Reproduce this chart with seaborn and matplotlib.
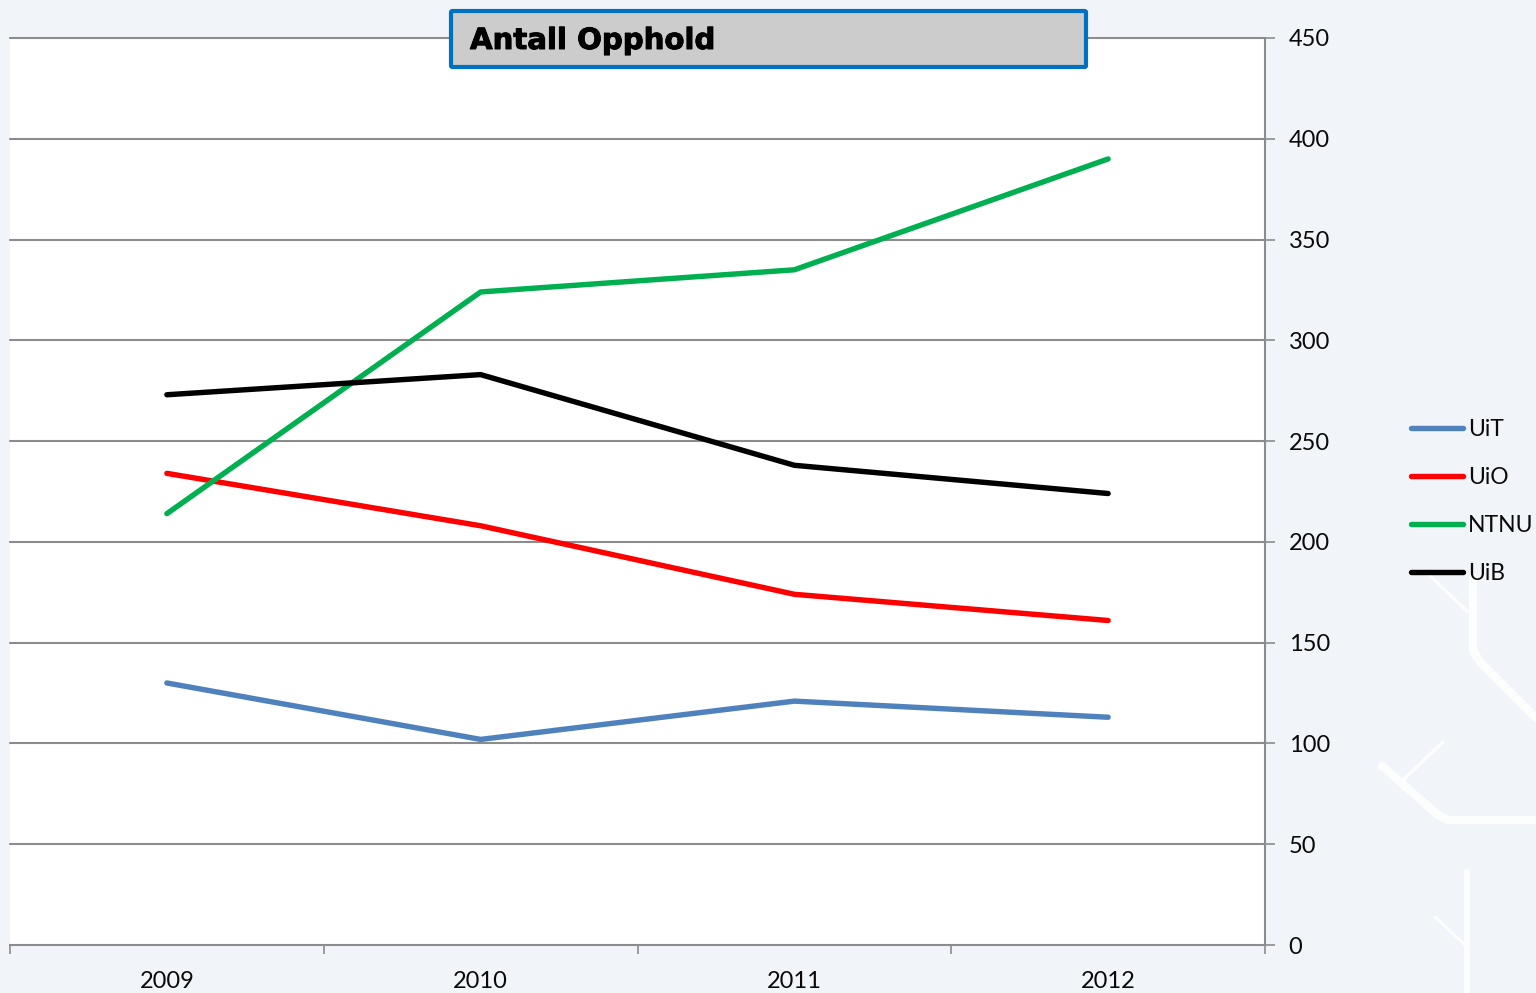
import matplotlib
matplotlib.use("Agg")
import matplotlib.pyplot as plt
import matplotlib.patheffects as pe
import seaborn as sns
import pandas as pd
from matplotlib.patches import FancyBboxPatch
from matplotlib.lines import Line2D

years = ["2009", "2010", "2011", "2012"]
uit = [130, 102, 121, 113]
uio = [234, 208, 174, 161]
ntnu = [214, 324, 335, 390]
uib = [273, 283, 238, 224]
y_ticks = [0, 50, 100, 150, 200, 250, 300, 350, 400, 450]
title = "Antall Opphold"

W, H = 1536, 993
BG = "#f1f4f8"
GRID = "#8c8c8c"
LW = 3.9
TXT = "#0a0a0a"
sns.set_theme(style="white")
plt.rcParams["font.family"] = ["Lato", "DejaVu Sans"]

fig = plt.figure(figsize=(W / 100, H / 100), dpi=100, facecolor=BG)


def fx(px):
    return px / W


def fy(px):
    return 1 - px / H


# faint white background decoration
deco = [
    ([1428, 1468], [574, 612], 2.5),
    ([1473, 1473, 1480, 1536], [578, 650, 662, 718], 6),
    ([1382, 1438, 1448, 1536], [766, 815, 820, 820], 6),
    ([1403, 1443], [780, 742], 2.5),
    ([1467, 1467], [872, 993], 4.5),
    ([1435, 1465], [917, 945], 2),
]
for xs, ys, lw in deco:
    fig.add_artist(Line2D([fx(v) for v in xs], [fy(v) for v in ys], color="white", lw=lw,
                          solid_capstyle="round", transform=fig.transFigure, zorder=0, alpha=0.85))

L, R, T, B = 10, 1265, 38, 945
ax = fig.add_axes([L / W, 1 - B / H, (R - L) / W, (B - T) / H], facecolor="white")

df = pd.DataFrame({"pos": [0.5, 1.5, 2.5, 3.5] * 4,
                   "value": uit + uio + ntnu + uib,
                   "series": ["UiT"] * 4 + ["UiO"] * 4 + ["NTNU"] * 4 + ["UiB"] * 4})
colors = {"UiT": "#4f81bd", "UiO": "#ff0000", "NTNU": "#00b050", "UiB": "#000000"}
ax.set_axisbelow(True)
sns.lineplot(data=df, x="pos", y="value", hue="series", palette=colors, ax=ax,
             linewidth=LW, legend=False, solid_capstyle="round", sort=False)

ax.set_xlim(0, 4)
ax.set_ylim(0, 450)
ax.set_xlabel("")
ax.set_ylabel("")
ax.yaxis.tick_right()
ax.set_yticks(y_ticks)
ax.set_xticks([0, 1, 2, 3, 4])
ax.set_xticklabels([])
ax.tick_params(axis="y", length=7, width=1.2, color=GRID, labelsize=17,
               pad=10, labelcolor=TXT, right=True)
ax.tick_params(axis="x", length=6.5, width=1.2, color=GRID, direction="out", bottom=True)
for v in y_ticks[1:]:
    ax.axhline(v, color=GRID, lw=1.5, zorder=0.5, clip_on=False)
for s in ["top", "left"]:
    ax.spines[s].set_visible(False)
for s in ["right", "bottom"]:
    ax.spines[s].set_visible(True)
    ax.spines[s].set_color(GRID)
    ax.spines[s].set_linewidth(1.5)
for p, lab in zip([0.5, 1.5, 2.5, 3.5], years):
    ax.annotate(lab, (p, 0), xytext=(0, -26), textcoords="offset points",
                ha="center", va="center", fontsize=17, color=TXT)

# title box
box_w, box_h = 635, 56
fig.add_artist(FancyBboxPatch((451, H - 67), box_w, box_h, boxstyle="round,pad=0,rounding_size=1.5",
                              transform=None, facecolor="#cccccc", edgecolor="#0070c0",
                              linewidth=3, zorder=5))
fig.text(fx(470), fy(41), title, fontsize=21, fontweight="bold", family="DejaVu Sans",
         color="black", va="center", ha="left", zorder=6,
         path_effects=[pe.withStroke(linewidth=0.7, foreground="black")])

# legend
for name, y in zip(["UiT", "UiO", "NTNU", "UiB"], [428, 476, 524, 572]):
    fig.add_artist(Line2D([fx(1411), fx(1463)], [fy(y), fy(y)], color=colors[name],
                          lw=LW, solid_capstyle="round", transform=fig.transFigure, zorder=3))
    fig.text(fx(1468), fy(y + 1), name, fontsize=16.5, color=TXT, va="center", ha="left", zorder=3)

fig.savefig("out.png", dpi=100, facecolor=BG)
